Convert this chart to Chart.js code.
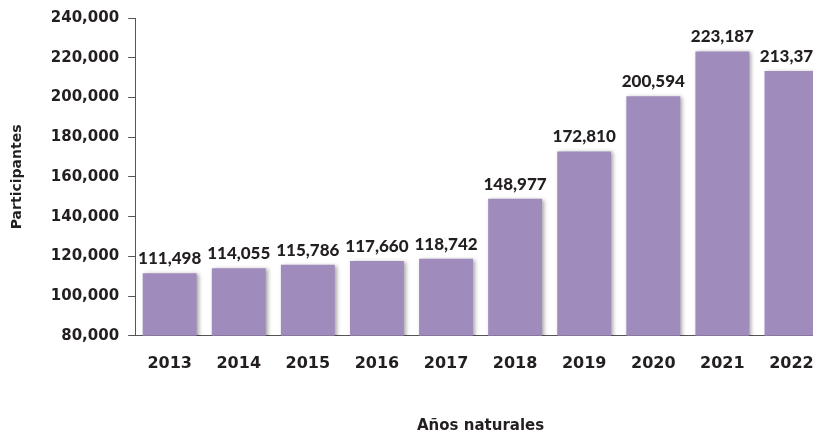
<!DOCTYPE html>
<html>
<head>
<meta charset="utf-8">
<script src="https://cdn.jsdelivr.net/npm/chart.js@4"></script>
<style>
  html, body { margin: 0; padding: 0; background: #fff; overflow: hidden; }
  #wrap { width: 828px; height: 436px; }
</style>
</head>
<body>
<div id="wrap"><canvas id="chart"></canvas></div>
<script>
const years = ['2013', '2014', '2015', '2016', '2017', '2018', '2019', '2020', '2021', '2022'];
const participantes = [111498, 114055, 115786, 117660, 118742, 148977, 172810, 200594, 223187, 213374];
const yTicks = [80000, 100000, 120000, 140000, 160000, 180000, 200000, 220000, 240000];

const FONT = '"DejaVu Sans", sans-serif';
const LABEL_FONT = 'Lato, sans-serif';
const TEXT = '#231f20';

// sombra de las barras
const barShadow = {
  id: 'barShadow',
  beforeDatasetDraw(chart) {
    const ctx = chart.ctx;
    ctx.save();
    ctx.shadowColor = 'rgba(0, 0, 0, 0.35)';
    ctx.shadowBlur = 4;
    ctx.shadowOffsetX = 2;
    ctx.shadowOffsetY = 1;
  },
  afterDatasetDraw(chart) {
    chart.ctx.restore();
  }
};

// etiquetas sobre cada barra
const barLabels = {
  id: 'barLabels',
  afterDatasetsDraw(chart) {
    const ctx = chart.ctx;
    const meta = chart.getDatasetMeta(0);
    ctx.save();
    ctx.font = '900 17px ' + LABEL_FONT;
    ctx.fillStyle = TEXT;
    ctx.textAlign = 'center';
    ctx.textBaseline = 'bottom';
    meta.data.forEach((bar, i) => {
      ctx.fillText(participantes[i].toLocaleString('en-US'), bar.x, bar.y - 6);
    });
    ctx.restore();
  }
};

new Chart(document.getElementById('chart').getContext('2d'), {
  type: 'bar',
  data: {
    labels: years,
    datasets: [{
      label: 'Participantes',
      data: participantes,
      backgroundColor: '#a08bbd',
      categoryPercentage: 0.78,
      barPercentage: 1.0
    }]
  },
  options: {
    responsive: true,
    maintainAspectRatio: false,
    animation: false,
    layout: { padding: { top: 5, left: 9, right: 2, bottom: 1 } },
    plugins: {
      legend: { display: false },
      tooltip: { enabled: false }
    },
    scales: {
      y: {
        min: 80000,
        max: 240000,
        afterBuildTicks: axis => { axis.ticks = yTicks.map(v => ({ value: v })); },
        border: { display: true, color: '#555', width: 1 },
        grid: { drawOnChartArea: false, drawTicks: true, tickLength: 7, color: '#555' },
        ticks: {
          padding: 9,
          color: TEXT,
          font: { family: FONT, size: 15, weight: 'bold' },
          callback: v => v.toLocaleString('en-US')
        },
        title: {
          display: true,
          text: 'Participantes',
          color: TEXT,
          font: { family: FONT, size: 14, weight: 'bold' },
          padding: { top: 0, bottom: 16 }
        }
      },
      x: {
        border: { display: true, color: '#555', width: 1 },
        grid: { display: false },
        ticks: {
          padding: 10,
          color: TEXT,
          font: { family: FONT, size: 16, weight: 'bold' }
        },
        title: {
          display: true,
          text: 'Años naturales',
          color: TEXT,
          font: { family: FONT, size: 15, weight: 'bold' },
          padding: { top: 34, bottom: 0 }
        }
      }
    }
  },
  plugins: [barShadow, barLabels]
});
</script>
</body>
</html>
